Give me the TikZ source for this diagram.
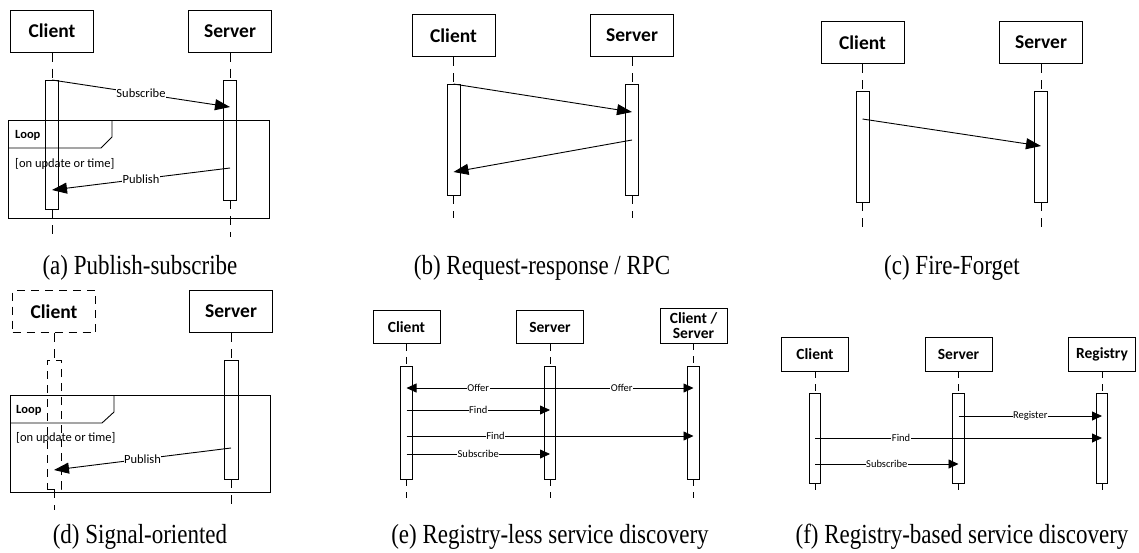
\documentclass[tikz,border=0pt]{standalone}
\usepackage{graphicx}
\usepackage{fontspec}
\setmainfont{Carlito}
\newfontfamily\capfont{Liberation Serif}
\usetikzlibrary{arrows.meta}
\tikzset{
 actorbig/.style={draw, line width=1pt, minimum width=83pt, minimum height=42pt, inner sep=0pt, font=\bfseries\fontsize{19.5}{21}\selectfont},
 actorsm/.style={draw, line width=0.9pt, minimum width=67pt, minimum height=33pt, inner sep=0pt, font=\bfseries\fontsize{15.5}{14.5}\selectfont, align=center},
 actbar/.style={draw, line width=0.9pt, minimum width=13pt, inner sep=0pt},
 actbarsm/.style={draw, line width=0.8pt, minimum width=11.5pt, inner sep=0pt},
 life/.style={line width=0.9pt, dash pattern=on 9pt off 7pt},
 lifesm/.style={line width=0.8pt, dash pattern=on 7pt off 6pt},
 msg/.style={line width=0.9pt, -{Triangle[length=15pt,width=11pt]}},
 msgsm/.style={line width=0.75pt, -{Triangle[length=10pt,width=9pt]}},
 lbl/.style={fill=white, inner sep=0.5pt, font=\fontsize{12.5}{14}\selectfont},
 lblsm/.style={fill=white, inner sep=0.5pt, font=\fontsize{10.5}{12}\selectfont},
 loopframe/.style={draw, line width=0.9pt},
 looptext/.style={anchor=west, inner sep=0pt, font=\fontsize{12.5}{14}\selectfont},
 captext/.style={font=\capfont\fontsize{23}{25}\selectfont, inner sep=0pt},
}
\begin{document}
\begin{tikzpicture}[x=1pt,y=-1pt]
\path[use as bounding box, fill=white] (0,0) rectangle (1139,552);

% ---------------- (a) Publish-subscribe ----------------
\node[actorbig] (aC) at (52,31) {Client};
\node[actorbig] (aS) at (230,31) {Server};
\node[actbar, minimum height=129pt] (aCa) at (52,144.5) {};
\node[actbar, minimum height=120pt] (aSa) at (230,140) {};
\coordinate (aCe) at (52,237);
\coordinate (aSe) at (230,237);
\draw[life] (aC.south) -- (aCa.north);
\draw[life] (aCa.south) -- (aCe);
\draw[life] (aS.south) -- (aSa.north);
\draw[life] (aSa.south) -- (aSe);
\node[loopframe, minimum width=261pt, minimum height=98pt, inner sep=0pt] (aL) at (138.5,169) {};
\draw[line width=0.9pt] (112,120) -- (112,137) -- (101,148) -- (8,148);
\node[looptext, font=\bfseries\fontsize{12.5}{14}\selectfont] (aLt) at (15,135) {Loop};
\node[looptext] (aLc) at (15,164) {[on update or time]};
\coordinate (a1s) at (52,80);
\coordinate (a1e) at (230,107);
\coordinate (a2s) at (230,168);
\coordinate (a2e) at (52,190);
\draw[msg] (a1s) -- node[lbl] {Subscribe} (a1e);
\draw[msg] (a2s) -- node[lbl] {Publish} (a2e);
\node[captext] (capa) at (140,268) {\scalebox{1}[1.2]{(a) Publish-subscribe}};

% ---------------- (b) Request-response ----------------
\node[actorbig] (bC) at (453.5,35.5) {Client};
\node[actorbig] (bS) at (632,35.5) {Server};
\node[actbar, minimum height=111pt] (bCa) at (453.5,139.5) {};
\node[actbar, minimum height=111pt] (bSa) at (632,139.5) {};
\coordinate (bCe) at (453.5,218);
\coordinate (bSe) at (632,218);
\draw[life] (bC.south) -- (bCa.north);
\draw[life] (bCa.south) -- (bCe);
\draw[life] (bS.south) -- (bSa.north);
\draw[life] (bSa.south) -- (bSe);
\coordinate (b1s) at (453.5,84);
\coordinate (b1e) at (632,112);
\coordinate (b2s) at (632,140);
\coordinate (b2e) at (453.5,172);
\draw[msg] (b1s) -- (b1e);
\draw[msg] (b2s) -- (b2e);
\node[captext] (capb) at (542,268) {\scalebox{1}[1.2]{(b) Request-response / RPC}};

% ---------------- (c) Fire-Forget ----------------
\node[actorbig] (cC) at (862.5,42.5) {Client};
\node[actorbig] (cS) at (1041,42.5) {Server};
\node[actbar, minimum height=111pt] (cCa) at (862.5,146.5) {};
\node[actbar, minimum height=111pt] (cSa) at (1041,146.5) {};
\coordinate (cCe) at (862.5,227);
\coordinate (cSe) at (1041,227);
\draw[life] (cC.south) -- (cCa.north);
\draw[life] (cCa.south) -- (cCe);
\draw[life] (cS.south) -- (cSa.north);
\draw[life] (cSa.south) -- (cSe);
\coordinate (c1s) at (862.5,119);
\coordinate (c1e) at (1041,146);
\draw[msg] (c1s) -- (c1e);
\node[captext] (capc) at (952,268) {\scalebox{1}[1.2]{(c) Fire-Forget}};

% ---------------- (d) Signal-oriented ----------------
\node[actorbig, dash pattern=on 8pt off 6pt] (dC) at (54,311.5) {Client};
\node[actorbig] (dS) at (231,311.5) {Server};
\node[actbar, dash pattern=on 8pt off 6pt, minimum width=14pt, minimum height=129pt] (dCa) at (54,424.5) {};
\node[actbar, minimum width=14pt, minimum height=119pt] (dSa) at (231,419.5) {};
\coordinate (dCe) at (54,510);
\coordinate (dSe) at (231,510);
\draw[life] (dC.south) -- (dCa.north);
\draw[life] (dCa.south) -- (dCe);
\draw[life] (dS.south) -- (dSa.north);
\draw[life] (dSa.south) -- (dSe);
\node[loopframe, minimum width=260pt, minimum height=97pt, inner sep=0pt] (dL) at (140,443.5) {};
\draw[line width=0.9pt] (114,395) -- (114,412) -- (102,423) -- (10,423);
\node[looptext, font=\bfseries\fontsize{12.5}{14}\selectfont] (dLt) at (16,410) {Loop};
\node[looptext] (dLc) at (16,438) {[on update or time]};
\coordinate (d1s) at (231,448);
\coordinate (d1e) at (54,470);
\draw[msg] (d1s) -- node[lbl] {Publish} (d1e);
\node[captext] (capd) at (140,537) {\scalebox{1}[1.2]{(d) Signal-oriented}};

% ---------------- (e) Registry-less ----------------
\node[actorsm] (eC) at (406.5,327) {Client};
\node[actorsm] (eS) at (550,327) {Server};
\node[actorsm, minimum height=35pt] (eR) at (693.5,325.5) {Client /\\Server};
\node[actbarsm, minimum height=113pt] (eCa) at (406.5,422.5) {};
\node[actbarsm, minimum height=113pt] (eSa) at (550,422.5) {};
\node[actbarsm, minimum height=113pt] (eRa) at (693.5,422.5) {};
\coordinate (eCe) at (406.5,498);
\coordinate (eSe) at (550,498);
\coordinate (eRe) at (693.5,498);
\draw[lifesm] (eC.south) -- (eCa.north);
\draw[lifesm] (eCa.south) -- (eCe);
\draw[lifesm] (eS.south) -- (eSa.north);
\draw[lifesm] (eSa.south) -- (eSe);
\draw[lifesm] (eR.south) -- (eRa.north);
\draw[lifesm] (eRa.south) -- (eRe);
\coordinate (eO) at (550,388);
\coordinate (eOc) at (406.5,388);
\coordinate (eOr) at (693.5,388);
\draw[msgsm] (eO) -- node[lblsm] {Offer} (eOc);
\draw[msgsm] (eO) -- node[lblsm] {Offer} (eOr);
\coordinate (e1s) at (406.5,410);
\coordinate (e1e) at (550,410);
\draw[msgsm] (e1s) -- node[lblsm] {Find} (e1e);
\coordinate (e2s) at (406.5,436);
\coordinate (e2e) at (693.5,436);
\draw[msgsm] (e2s) -- node[lblsm, pos=0.31] {Find} (e2e);
\coordinate (e3s) at (406.5,454);
\coordinate (e3e) at (550,454);
\draw[msgsm] (e3s) -- node[lblsm] {Subscribe} (e3e);
\node[captext] (cape) at (550,537) {\scalebox{1}[1.2]{(e) Registry-less service discovery}};

% ---------------- (f) Registry-based ----------------
\node[actorsm, minimum height=34pt] (fC) at (815,354) {Client};
\node[actorsm, minimum height=34pt] (fS) at (958.5,354) {Server};
\node[actorsm, minimum height=34pt] (fR) at (1102,354) {Registry};
\node[actbarsm, minimum height=90pt] (fCa) at (815,438) {};
\node[actbarsm, minimum height=90pt] (fSa) at (958.5,438) {};
\node[actbarsm, minimum height=90pt] (fRa) at (1102,438) {};
\coordinate (fCe) at (815,493);
\coordinate (fSe) at (958.5,493);
\coordinate (fRe) at (1102,493);
\draw[lifesm] (fC.south) -- (fCa.north);
\draw[lifesm] (fCa.south) -- (fCe);
\draw[lifesm] (fS.south) -- (fSa.north);
\draw[lifesm] (fSa.south) -- (fSe);
\draw[lifesm] (fR.south) -- (fRa.north);
\draw[lifesm] (fRa.south) -- (fRe);
\coordinate (f1s) at (958.5,416);
\coordinate (f1e) at (1102,416);
\draw[msgsm] (f1s) -- node[lblsm] {Register} (f1e);
\coordinate (f2s) at (815,438);
\coordinate (f2e) at (1102,438);
\draw[msgsm] (f2s) -- node[lblsm, pos=0.30] {Find} (f2e);
\coordinate (f3s) at (815,464);
\coordinate (f3e) at (958.5,464);
\draw[msgsm] (f3s) -- node[lblsm] {Subscribe} (f3e);
\node[captext] (capf) at (962,537) {\scalebox{1}[1.2]{(f) Registry-based service discovery}};
\end{tikzpicture}
\end{document}
